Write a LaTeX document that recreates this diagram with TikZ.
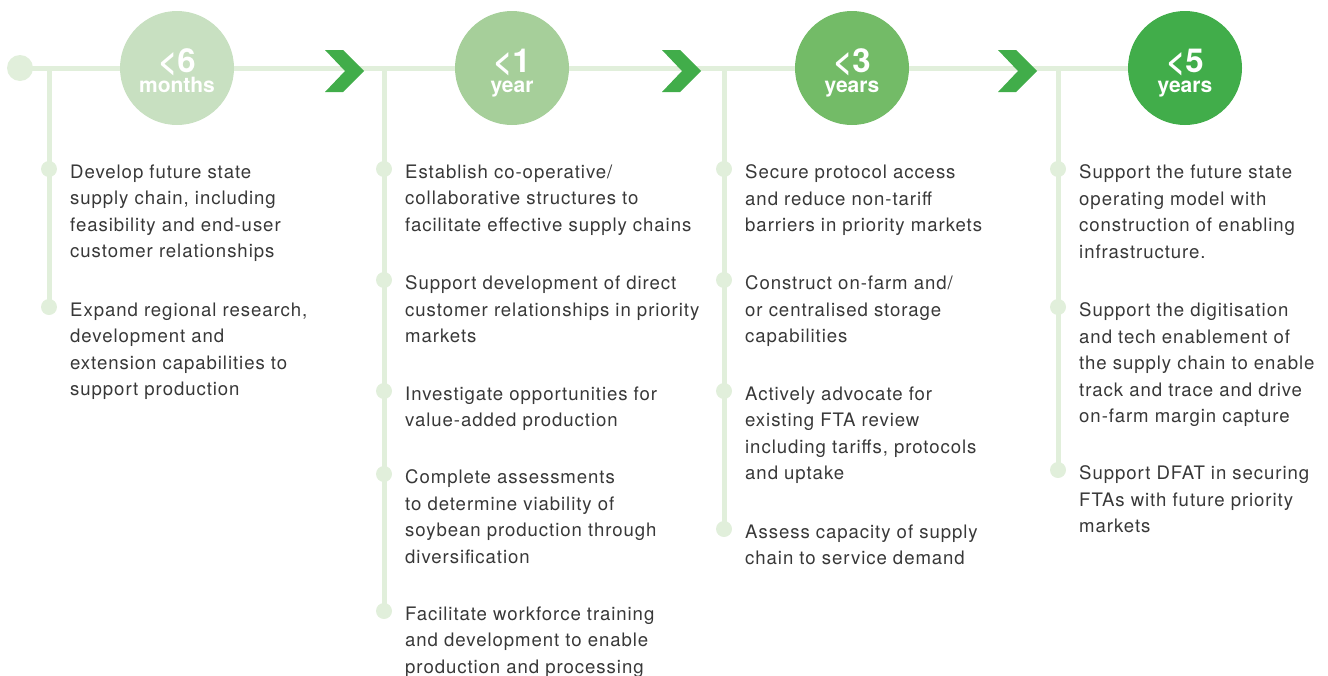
\documentclass[tikz,border=0pt]{standalone}
\usepackage{fontspec}
\setmainfont{TeX Gyre Heros}
\newfontfamily\itemfont[LetterSpace=5]{TeX Gyre Heros}
\usetikzlibrary{backgrounds}

\definecolor{railgreen}{HTML}{E1EFDB}
\definecolor{stepa}{HTML}{C8E0C1}
\definecolor{stepb}{HTML}{A6CF9A}
\definecolor{stepc}{HTML}{73BB67}
\definecolor{stepd}{HTML}{41AD4A}
\definecolor{bodytext}{HTML}{383838}

\tikzset{
  rail/.style={draw=railgreen, line width=5pt},
  dot/.style={circle, fill=railgreen, inner sep=0pt, minimum size=16pt},
  stage/.style={circle, inner sep=0pt, minimum size=114pt, text=white, align=center,
    font=\bfseries\fontsize{21}{20}\selectfont},
  item/.style={text=bodytext, font=\itemfont\fontsize{18.6}{26.5}\selectfont, align=left,
    anchor=north west, inner sep=0pt, execute at begin node=\strut},
  chev/.pic={\fill[stepd] (0,-21) -- (18,-21) -- (39,0) -- (18,21) -- (0,21) -- (20,0) -- cycle;}
}

\begin{document}
\begin{tikzpicture}[x=1pt,y=-1pt]
\useasboundingbox (0,0) rectangle (1328,675);

% stages
\node[dot, minimum size=26pt] (start) at (20,68) {};
\foreach \x/\col/\n/\u [count=\k] in {177/stepa/<6/months, 512/stepb/<1/year, 852/stepc/<3/years, 1185/stepd/<5/years}
  \node[stage, fill=\col] (t\k) at (\x,68)
    {{\fontsize{33}{20}\selectfont\rule{0pt}{34pt}\n}\\[0pt]\vphantom{y}\u};
\pic at (325,71) {chev};
\pic at (662,71) {chev};
\pic at (998,71) {chev};

% actions
\foreach \y/\txt [count=\i] in {169/{Develop future state\\supply chain, including\\feasibility and end-user\\customer relationships},
  307/{Expand regional research,\\development and\\extension capabilities to\\support production}}
{
  \node[dot] (a\i) at (49,\y) {};
  \node[item] (p\i) at (70,\y-4.5) {\txt};
}
\foreach \y/\txt [count=\i] in {169/{Establish co-operative/\\collaborative structures to\\facilitate effective supply chains},
  280/{Support development of direct\\customer relationships in priority\\markets},
  391/{Investigate opportunities for\\value-added production},
  474/{Complete assessments\\to determine viability of\\soybean production through\\diversification},
  611/{Facilitate workforce training\\and development to enable\\production and processing}}
{
  \node[dot] (b\i) at (384,\y) {};
  \node[item] (q\i) at (405,\y-4.5) {\txt};
}
\foreach \y/\txt [count=\i] in {169/{Secure protocol access\\and reduce non-tariff\\barriers in priority markets},
  280/{Construct on-farm and/\\or centralised storage\\capabilities},
  391/{Actively advocate for\\existing FTA review\\including tariffs, protocols\\and uptake},
  529/{Assess capacity of supply\\chain to service demand}}
{
  \node[dot] (c\i) at (724,\y) {};
  \node[item] (r\i) at (745,\y-4.5) {\txt};
}
\foreach \y/\txt [count=\i] in {169/{Support the future state\\operating model with\\construction of enabling\\infrastructure.},
  307/{Support the digitisation\\and tech enablement of\\the supply chain to enable\\track and trace and drive\\on-farm margin capture},
  470/{Support DFAT in securing\\FTAs with future priority\\markets}}
{
  \node[dot] (d\i) at (1058,\y) {};
  \node[item] (s\i) at (1079,\y-4.5) {\txt};
}

% rails
\coordinate (ja) at (49,68);
\coordinate (jb) at (384,68);
\coordinate (jc) at (724,68);
\coordinate (jd) at (1058,68);
\begin{scope}[on background layer]
  \draw[rail] (start.center) -- (t4.center);
  \draw[rail] (ja) -- (a2.center);
  \draw[rail] (jb) -- (b5.center);
  \draw[rail] (jc) -- (c4.center);
  \draw[rail] (jd) -- (d3.center);
\end{scope}
\end{tikzpicture}
\end{document}
